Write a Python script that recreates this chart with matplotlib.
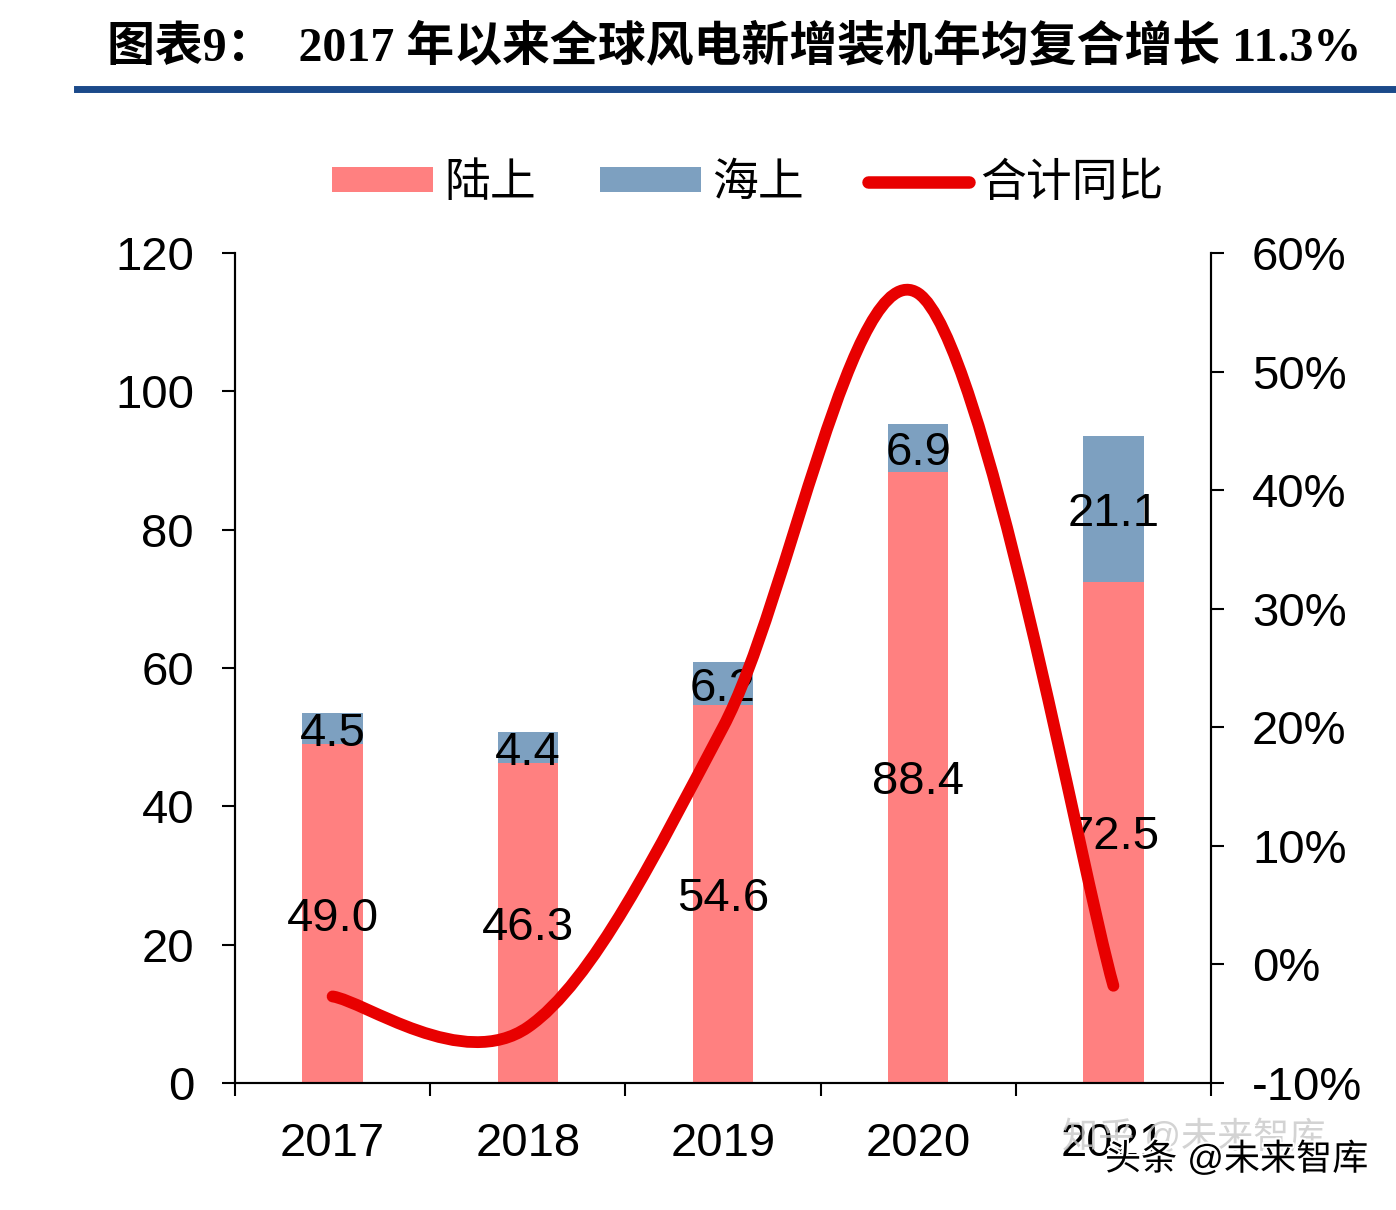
import matplotlib
matplotlib.use('Agg')
import matplotlib.pyplot as plt
import matplotlib.patheffects as pe
from matplotlib.path import Path
from matplotlib.patches import PathPatch, Patch
from matplotlib.lines import Line2D
from matplotlib.ticker import FuncFormatter
import numpy as np

plt.rcParams['font.family'] = ['Liberation Sans', 'Noto Sans CJK SC']

# data
years = ['2017', '2018', '2019', '2020', '2021']
onshore = [49.0, 46.3, 54.6, 88.4, 72.5]
offshore = [4.5, 4.4, 6.2, 6.9, 21.1]
yoy = [-0.027, -0.053, 0.200, 0.566, -0.018]  # 合计同比

land_color = '#FF8080'
sea_color = '#7DA0C0'
line_color = '#E80000'


def smooth_path(xs, ys):
    # excel-like smoothed line (bezier through the points)
    n = len(xs)
    pts = np.column_stack([xs, ys])
    verts = [tuple(pts[0])]
    codes = [Path.MOVETO]
    for i in range(n - 1):
        p_prev = pts[max(i - 1, 0)]
        p0 = pts[i]
        p1 = pts[i + 1]
        p_next = pts[min(i + 2, n - 1)]
        c1 = p0 + (p1 - p_prev) / 6.0
        c2 = p1 - (p_next - p0) / 6.0
        verts += [tuple(c1), tuple(c2), tuple(p1)]
        codes += [Path.CURVE4] * 3
    return Path(verts, codes)


fig = plt.figure(figsize=(13.96, 12.10), dpi=100)
W, H = 1396, 1210
ax = fig.add_axes([235 / W, 1 - 1083 / H, 976 / W, 830 / H])

x = np.arange(len(years))
bw = 0.31
ax.bar(x, onshore, bw, color=land_color, zorder=2)
ax.bar(x, offshore, bw, bottom=onshore, color=sea_color, zorder=2)

for i in range(len(years)):
    ax.text(x[i], onshore[i] / 2, '%.1f' % onshore[i], ha='center', va='center_baseline',
            fontsize=34, color='black', zorder=3)
    ax.text(x[i], onshore[i] + offshore[i] / 2, '%.1f' % offshore[i], ha='center',
            va='center_baseline', fontsize=34, color='black', zorder=3)

ax.set_xlim(-0.5, len(years) - 0.5)
ax.set_ylim(0, 120)
ax.set_yticks(range(0, 121, 20))
ax.set_xticks(x)
ax.set_xticklabels(years)
ax.set_xticks(np.arange(-0.5, len(years), 1.0), minor=True)
ax.tick_params(axis='x', which='major', length=0, pad=28, labelsize=34)
ax.tick_params(axis='x', which='minor', length=9, width=1.5, direction='out')
ax.tick_params(axis='y', length=9.5, width=1.5, direction='out', pad=20, labelsize=34)
for s in ['left', 'bottom', 'right']:
    ax.spines[s].set_linewidth(1.5)
ax.spines['top'].set_visible(False)

ax2 = ax.twinx()
ax2.set_ylim(-0.1, 0.6)
ax2.set_yticks(np.arange(-0.1, 0.61, 0.1))
ax2.yaxis.set_major_formatter(FuncFormatter(lambda v, p: '%d%%' % round(v * 100)))
ax2.tick_params(axis='y', length=9.5, width=1.5, direction='out', pad=20, labelsize=34)
for s in ['left', 'bottom', 'right']:
    ax2.spines[s].set_linewidth(1.5)
ax2.spines['top'].set_visible(False)

curve = PathPatch(smooth_path(x.astype(float), np.array(yoy)), fill=False,
                  edgecolor=line_color, lw=8.5, capstyle='round', joinstyle='round', zorder=4)
ax2.add_patch(curve)

# legend
handles = [Patch(facecolor=land_color), Patch(facecolor=sea_color),
           Line2D([], [], color=line_color, lw=9, solid_capstyle='round')]
leg = fig.legend(handles, ['陆上', '海上', '合计同比'], loc='center',
                 bbox_to_anchor=(748 / W, 1 - 184 / H), ncol=3, frameon=False,
                 fontsize=33, handlelength=2.2, handleheight=0.45, handletextpad=0.25,
                 columnspacing=1.4)

# title and rule
fig.text(107 / W, 1 - 47 / H, '图表9：  2017 年以来全球风电新增装机年均复合增长 11.3%',
         family=['Liberation Serif', 'Noto Sans CJK SC'], fontweight='bold',
         fontsize=34.5, ha='left', va='center')
fig.add_artist(Line2D([77 / W, 1.0], [1 - 89 / H, 1 - 89 / H], transform=fig.transFigure,
                      color='#1B4A8A', lw=5))

# watermark
fig.text(1062 / W, 1 - 1138 / H, '知乎 @未来智库', fontsize=26, color='#C8C8C8',
         ha='left', va='center', alpha=0.8)
fig.text(1105 / W, 1 - 1160 / H, '头条 @未来智库', fontsize=26, color='black',
         ha='left', va='center',
         path_effects=[pe.withStroke(linewidth=3, foreground='white')])

plt.savefig('out.png', dpi=100)
